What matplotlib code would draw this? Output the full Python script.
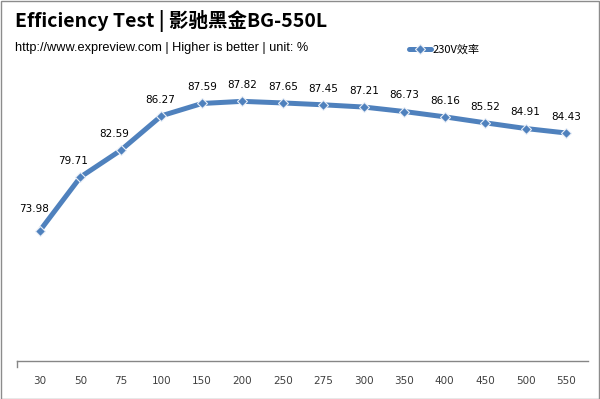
import matplotlib
matplotlib.use('Agg')
import matplotlib.pyplot as plt
from matplotlib.patches import Rectangle

# 负载档位 (W) 与 230V 效率 (%)
loads = ['30', '50', '75', '100', '150', '200', '250', '275', '300', '350', '400', '450', '500', '550']
eff_230v = [73.98, 79.71, 82.59, 86.27, 87.59, 87.82, 87.65, 87.45, 87.21, 86.73, 86.16, 85.52, 84.91, 84.43]

title = 'Efficiency Test | 影驰黑金BG-550L'
subtitle = 'http://www.expreview.com | Higher is better | unit: %'
series_name = '230V效率'

line_color = '#4F81BD'

# 数据标签的微调 (像素偏移)，前几个点往左挪一点避开线
label_nudge = {0: (-6, 5), 1: (-7, 0), 2: (-7, 0), 3: (-1, 0)}

fig = plt.figure(figsize=(6.0, 3.99), dpi=100)
ax = fig.add_axes([17/600, 38/399, 571/600, 280/399])

x = range(len(loads))
ax.plot(x, eff_230v, color=line_color, linewidth=3.6, solid_joinstyle='round',
        solid_capstyle='round', marker='D', markersize=5,
        markerfacecolor=line_color, markeredgecolor='#E8EEF7', markeredgewidth=0.8,
        label=series_name)

for i, v in zip(x, eff_230v):
    dx, dy = label_nudge.get(i, (0, 0))
    ax.annotate(f'{v:.2f}', (i, v), xytext=(dx * 0.72, 8 + dy * 0.72), textcoords='offset points',
                ha='center', va='bottom', fontsize=7.5, family='DejaVu Sans', color='#000000')

ax.set_xlim(-0.568, 13.54)
ax.set_ylim(60, 90)
ax.set_xticks(list(x))
ax.set_xticklabels(loads, fontsize=7.5, color='#404040')
ax.tick_params(axis='x', length=0, pad=11)
ax.set_yticks([])
for side in ['top', 'right', 'left']:
    ax.spines[side].set_visible(False)
ax.spines['bottom'].set_color('#868686')
ax.spines['bottom'].set_linewidth(1)

# 左端的小刻度线
ax.plot([-0.568, -0.568], [60, 59.4], color='#868686', linewidth=1, clip_on=False)

fig.text(15/600, 1 - 21/399, title, fontsize=14, fontweight='bold',
         family=['Noto Sans CJK SC', 'DejaVu Sans'], va='center', ha='left')
fig.text(15/600, 1 - 48/399, subtitle, fontsize=9.2, family='Liberation Sans',
         va='center', ha='left', color='#000000')

leg = ax.legend(loc='upper left', bbox_to_anchor=(403/600, 1 - 39/399),
                bbox_transform=fig.transFigure, frameon=False,
                prop={'family': ['Noto Sans CJK SC', 'DejaVu Sans'], 'size': 8},
                handlelength=2.0, handletextpad=0.2, borderpad=0)

fig.patches.append(Rectangle((0.5/600, 0.5/399), 598.5/600, 397.5/399, transform=fig.transFigure,
                             fill=False, edgecolor='#8C8C8C', linewidth=1))

fig.savefig('out.png', dpi=100)
